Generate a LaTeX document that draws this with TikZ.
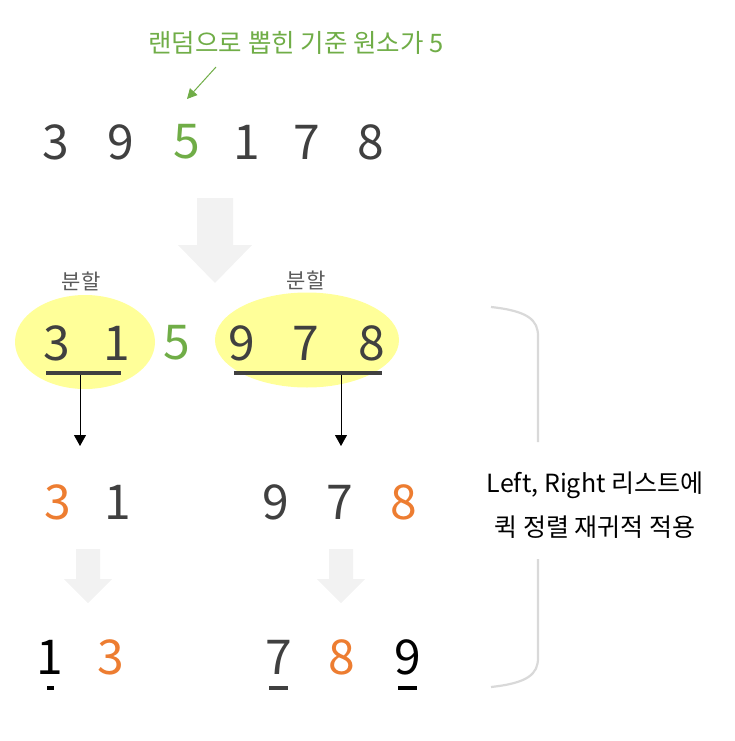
\documentclass[tikz,border=0pt]{standalone}
\usepackage{fontspec}
\setmainfont{Noto Sans CJK KR}
\usetikzlibrary{arrows.meta,shapes.geometric}
\definecolor{pgreen}{HTML}{70AD47}
\definecolor{porange}{HTML}{ED7D31}
\definecolor{dgray}{HTML}{404040}
\definecolor{lgray}{HTML}{F2F2F2}
\definecolor{bgray}{HTML}{D9D9D9}
\definecolor{tgray}{HTML}{595959}
\definecolor{pyellow}{HTML}{FFFF99}
\begin{document}
\begin{tikzpicture}[x=1pt,y=-1pt,
  dig/.style={inner sep=0pt, font=\fontsize{48}{48}\selectfont, text=dgray},
  ell/.style={ellipse, fill=pyellow, draw=none, inner sep=0pt},
  bar/.style={fill=dgray, draw=none, inner sep=0pt, minimum height=4pt},
  ubar/.style={draw=none, inner sep=0pt, minimum height=3.5pt},
  bigarrow/.style={fill=lgray, draw=none},
  conn/.style={draw=black, line width=0.8pt, -{Triangle[width=12pt,length=11pt]}},
  lbl/.style={inner sep=0pt, font=\fontsize{21}{21}\selectfont, text=tgray},
  brace/.style={draw=bgray, line width=2.2pt}]
\useasboundingbox (0,0) rectangle (734,741);
% title
\node[inner sep=0pt, text=pgreen, font=\fontsize{25.5}{25.5}\selectfont] (title) at (296,43) {랜덤으로 뽑힌 기준 원소가 5};
\coordinate (ga1) at (216,67);
\coordinate (ga2) at (187,99);
\draw[pgreen, line width=1pt, -{Triangle[width=10pt,length=10pt]}] (ga1) -- (ga2);
% row 1
\node[dig] (r1a) at (56,142) {3};
\node[dig] (r1b) at (121,142) {9};
\node[dig, text=pgreen] (r1c) at (187,142) {5};
\node[dig] (r1d) at (247,142) {1};
\node[dig] (r1e) at (307,142) {7};
\node[dig] (r1f) at (371,142) {8};
% big arrow
\fill[lgray] (197,198) -- (233,198) -- (233,245) -- (252,245) -- (215,283) -- (178,245) -- (197,245) -- cycle;
% ellipses
\node[ell, minimum width=140pt, minimum height=94pt] (e1) at (85,342) {};
\node[ell, minimum width=184pt, minimum height=95pt] (e2) at (307,340) {};
\node[lbl] (s1) at (81,281) {분할};
\node[lbl] (s2) at (306,280) {분할};
% row 2
\node[dig] (r2a) at (57,343) {3};
\node[dig] (r2b) at (117,343) {1};
\node[dig, text=pgreen] (r2c) at (177,343) {5};
\node[dig] (r2d) at (242,343) {9};
\node[dig] (r2e) at (306,343) {7};
\node[dig] (r2f) at (372,343) {8};
\node[bar, minimum width=75pt] (b1) at (83.5,373) {};
\node[bar, minimum width=148pt] (b2) at (308,373) {};
\coordinate (t1) at (80,446);
\coordinate (t2) at (341,446);
\draw[conn] (b1.south -| t1) -- (t1);
\draw[conn] (b2.south -| t2) -- (t2);
% row 3
\node[dig, text=porange] (r3a) at (58,502) {3};
\node[dig] (r3b) at (118,502) {1};
\node[dig] (r3c) at (276,502) {9};
\node[dig] (r3d) at (340,502) {7};
\node[dig, text=porange] (r3e) at (404,502) {8};
% small arrows
\fill[lgray] (76,549) -- (100,549) -- (100,579) -- (112,579) -- (88,603) -- (64,579) -- (76,579) -- cycle;
\fill[lgray] (329,549) -- (353,549) -- (353,579) -- (365,579) -- (341,603) -- (317,579) -- (329,579) -- cycle;
% row 4
\node[dig, text=black] (r4a) at (50,657) {1};
\node[dig, text=porange] (r4b) at (111,657) {3};
\node[dig] (r4c) at (279,657) {7};
\node[dig, text=porange] (r4d) at (342,657) {8};
\node[dig, text=black] (r4e) at (408,657) {9};
\node[ubar, fill=black, minimum width=7pt] (u1) at (50.5,688) {};
\node[ubar, fill=dgray, minimum width=19pt] (u2) at (278.5,688) {};
\node[ubar, fill=black, minimum width=19pt] (u3) at (407.5,688) {};
% brace
\draw[brace] (491,307) .. controls (528,311) and (538,320) .. (538,336) -- (538,442);
\draw[brace] (538,559) -- (538,658) .. controls (538,674) and (528,683) .. (491,687);
\node[inner sep=0pt, align=center, font=\fontsize{25}{44}\selectfont, text=black] (note) at (595,505) {Left, Right 리스트에\\퀵 정렬 재귀적 적용};
\end{tikzpicture}
\end{document}
